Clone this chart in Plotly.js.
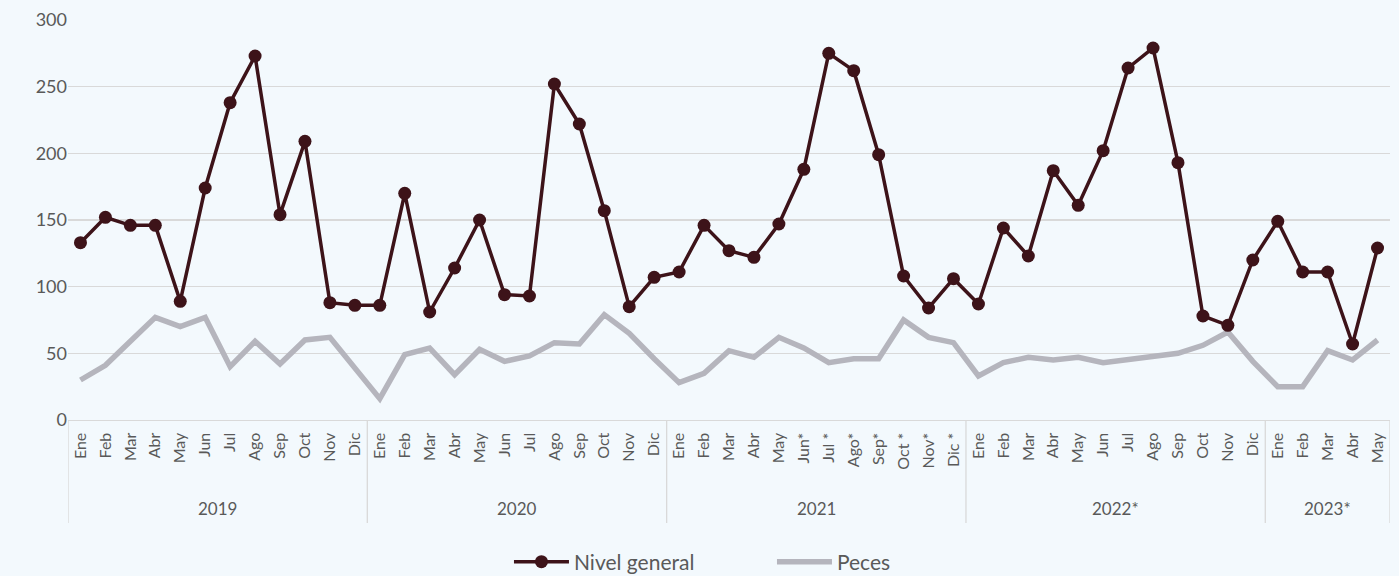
<!DOCTYPE html>
<html>
<head>
<meta charset="utf-8">
<script src="https://cdn.plot.ly/plotly-3.0.1.min.js"></script>
<style>html,body{margin:0;padding:0;background:#f3f9fd;}#chart{width:1399px;height:576px;}</style>
</head>
<body>
<div id="chart"></div>
<script>
const years = ["2019", "2020", "2021", "2022*", "2023*"];
const monthsByYear = [
  ["Ene","Feb","Mar","Abr","May","Jun","Jul","Ago","Sep","Oct","Nov","Dic"],
  ["Ene","Feb","Mar","Abr","May","Jun","Jul","Ago","Sep","Oct","Nov","Dic"],
  ["Ene","Feb","Mar","Abr","May","Jun*","Jul *","Ago*","Sep*","Oct *","Nov*","Dic *"],
  ["Ene","Feb","Mar","Abr","May","Jun","Jul","Ago","Sep","Oct","Nov","Dic"],
  ["Ene","Feb","Mar","Abr","May"]
];
const nivelGeneral = [
  133,152,146,146,89,174,238,273,154,209,88,86,
  86,170,81,114,150,94,93,252,222,157,85,107,
  111,146,127,122,147,188,275,262,199,108,84,106,
  87,144,123,187,161,202,264,279,193,78,71,120,
  149,111,111,57,129
];
const peces = [
  30,41,59,77,70,77,40,59,42,60,62,39,
  16,49,54,34,53,44,48,58,57,79,65,46,
  28,35,52,47,62,54,43,46,46,75,62,58,
  33,43,47,45,47,43,45,48,50,56,66,44,
  25,25,52,45,60
];
const yTicks = [0,50,100,150,200,250,300];

// build category keys
const keys = [], tickText = [], groupStart = [], groupSize = [];
years.forEach((y, gi) => {
  groupStart.push(keys.length);
  groupSize.push(monthsByYear[gi].length);
  monthsByYear[gi].forEach(m => { keys.push(y + "|" + m); tickText.push(m); });
});

const gridCol = "#d9d9d9", txtCol = "#595959";
const fontFam = "Lato, 'Open Sans', sans-serif";
const shapes = [];
const bounds = groupStart.map(s => s - 0.5).concat([keys.length - 0.5]);
bounds.forEach(b => shapes.push({type:"line", xref:"x", yref:"paper", x0:b, x1:b, y0:0, y1:-0.2575,
  line:{color:gridCol, width:1.3}, layer:"above"}));
const annotations = years.map((y, gi) => ({
  text: y, xref:"x", yref:"paper", x: groupStart[gi] + (groupSize[gi]-1)/2, y:-0.22,
  showarrow:false, yanchor:"middle", font:{size:17, color:txtCol, family:fontFam}
}));

const data = [
  {x: keys, y: peces, name: "Peces", type:"scatter", mode:"lines",
   line:{color:"#b5b5bd", width:5.5}},
  {x: keys, y: nivelGeneral, name: "Nivel general", type:"scatter", mode:"lines+markers",
   line:{color:"#3d1319", width:3.5}, marker:{color:"#3d1319", size:13}}
];

const layout = {
  width:1399, height:576,
  margin:{l:68, r:9, t:20, b:156, autoexpand:false},
  paper_bgcolor:"#f3f9fd", plot_bgcolor:"#f3f9fd",
  font:{family:fontFam, color:txtCol},
  showlegend:true,
  legend:{orientation:"h", x:0.5325, xanchor:"center", y:-0.355, yanchor:"middle",
    font:{size:21, color:txtCol}, traceorder:"reversed", itemwidth:55,
    entrywidth:193, entrywidthmode:"pixels", bgcolor:"rgba(0,0,0,0)"},
  xaxis:{type:"category", tickmode:"array", tickvals:keys, ticktext:tickText, tickangle:-90,
    tickfont:{size:16, color:txtCol}, ticklabelstandoff:5, showgrid:false, showline:true, linecolor:gridCol, linewidth:1.3,
    ticks:"", range:[-0.5, keys.length-0.5], zeroline:false, fixedrange:true, automargin:false},
  yaxis:{range:[0,300], tickvals:yTicks, showgrid:true, gridcolor:gridCol, gridwidth:1.3,
    zeroline:false, showline:false, ticks:"", tickfont:{size:18, color:txtCol}, fixedrange:true, automargin:false},
  shapes: shapes,
  annotations: annotations
};
Plotly.newPlot("chart", data, layout, {displayModeBar:false, staticPlot:true});
</script>
</body>
</html>
